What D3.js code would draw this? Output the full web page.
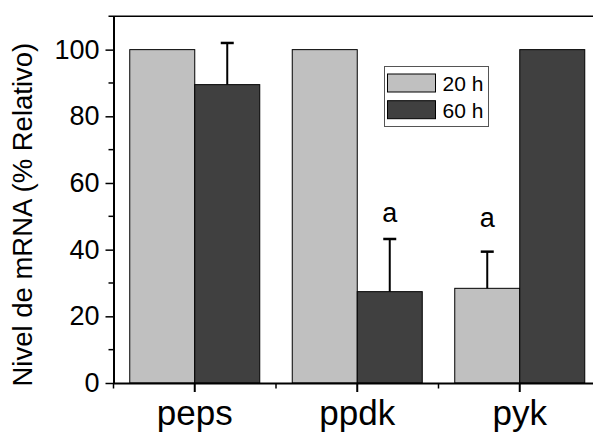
<!DOCTYPE html>
<html>
<head>
<meta charset="utf-8">
<script src="https://cdn.jsdelivr.net/npm/d3@7"></script>
<style>
  body { margin: 0; background: #fff; }
  svg { display: block; font-family: "Liberation Sans", Arial, sans-serif; }
</style>
</head>
<body>
<script>
// data
const genes = ["peps", "ppdk", "pyk"];
const series = ["20 h", "60 h"];
const colors = ["#c0c0c0", "#404040"];
const values20 = [100, 100, 28.4];
const values60 = [89.5, 27.4, 100];
const err20 = [0, 0, 11];
const err60 = [12.5, 15.8, 0];
const yTicks = [0, 20, 40, 60, 80, 100];
const yMinor = [10, 30, 50, 70, 90];
// significance marks: gene, series, y position (data units)
const marks = [
    {gene: "ppdk", s: "60 h", y: 48.2, text: "a"},
    {gene: "pyk", s: "20 h", y: 46.8, text: "a"}
];

const rows = [];
genes.forEach((g, i) => {
    rows.push({gene: g, s: series[0], v: values20[i], e: err20[i], color: colors[0]});
    rows.push({gene: g, s: series[1], v: values60[i], e: err60[i], color: colors[1]});
});

const W = 593, H = 434;
const plotLeft = 113.5, plotRight = 601, plotTop = 16.3, plotBottom = 383;

const svg = d3.select('body').append('svg')
    .attr('width', W)
    .attr('height', H);

const x = d3.scaleBand()
    .domain(genes)
    .range([plotLeft, plotRight])
    .padding(0);

const barW = 65;
const xs = d3.scaleBand()
    .domain(series)
    .range([-barW, barW]);

const y = d3.scaleLinear()
    .domain([0, 110])
    .range([plotBottom, plotTop]);

const cx = g => x(g) + x.bandwidth() / 2;

// bars
svg.append('g')
    .selectAll('rect')
    .data(rows)
    .enter()
    .append('rect')
    .attr('x', d => cx(d.gene) + xs(d.s))
    .attr('width', xs.bandwidth())
    .attr('y', d => y(d.v))
    .attr('height', d => y(0) - y(d.v))
    .attr('fill', d => d.color)
    .attr('stroke', '#000')
    .attr('stroke-width', 1);

// error bars (upper half only)
const eb = svg.append('g')
    .selectAll('g')
    .data(rows.filter(d => d.e > 0))
    .enter()
    .append('g')
    .attr('stroke', '#000');

eb.append('line')
    .attr('x1', d => cx(d.gene) + xs(d.s) + xs.bandwidth() / 2)
    .attr('x2', d => cx(d.gene) + xs(d.s) + xs.bandwidth() / 2)
    .attr('y1', d => y(d.v))
    .attr('y2', d => y(d.v + d.e))
    .attr('stroke-width', 2);

eb.append('line')
    .attr('x1', d => cx(d.gene) + xs(d.s) + xs.bandwidth() / 2 - 6.5)
    .attr('x2', d => cx(d.gene) + xs(d.s) + xs.bandwidth() / 2 + 6.5)
    .attr('y1', d => y(d.v + d.e))
    .attr('y2', d => y(d.v + d.e))
    .attr('stroke-width', 2.5);

// significance letters
svg.append('g')
    .selectAll('text')
    .data(marks)
    .enter()
    .append('text')
    .attr('x', d => cx(d.gene) + xs(d.s) + xs.bandwidth() / 2)
    .attr('y', d => y(d.y))
    .attr('text-anchor', 'middle')
    .attr('font-size', 27)
    .text(d => d.text);

// top frame line
svg.append('line')
    .attr('x1', plotLeft - 5)
    .attr('x2', plotRight)
    .attr('y1', y(110))
    .attr('y2', y(110))
    .attr('stroke', '#000')
    .attr('stroke-width', 1.5);

// y axis
const yAxis = d3.axisLeft(y)
    .tickValues(yTicks)
    .tickSize(8)
    .tickPadding(6)
    .tickSizeOuter(0);

const yg = svg.append('g')
    .attr('transform', `translate(${plotLeft}, 0)`)
    .call(yAxis);
yg.select('.domain').attr('stroke-width', 2);
yg.selectAll('.tick line').attr('stroke-width', 1.5);
yg.selectAll('.tick text')
    .attr('font-size', 27)
    .attr('font-family', '"Liberation Sans", Arial, sans-serif')
    .attr('fill', '#000');

svg.append('g')
    .selectAll('line')
    .data(yMinor)
    .enter()
    .append('line')
    .attr('x1', plotLeft - 5)
    .attr('x2', plotLeft)
    .attr('y1', d => y(d))
    .attr('y2', d => y(d))
    .attr('stroke', '#000')
    .attr('stroke-width', 1.5);

// x axis
const xAxis = d3.axisBottom(x)
    .tickSize(9)
    .tickPadding(10)
    .tickSizeOuter(0);

const xg = svg.append('g')
    .attr('transform', `translate(0, ${plotBottom})`)
    .call(xAxis);
xg.select('.domain').attr('stroke-width', 2);
xg.selectAll('.tick line').attr('stroke-width', 2);
xg.selectAll('.tick text')
    .attr('font-size', 35)
    .attr('font-family', '"Liberation Sans", Arial, sans-serif')
    .attr('fill', '#000')
    .attr('y', 42)
    .attr('dy', 0);

// minor x ticks at category boundaries
svg.append('g')
    .selectAll('line')
    .data(genes)
    .enter()
    .append('line')
    .attr('x1', d => x(d))
    .attr('x2', d => x(d))
    .attr('y1', plotBottom)
    .attr('y2', plotBottom + 5.5)
    .attr('stroke', '#000')
    .attr('stroke-width', 1.5);

// y title
svg.append('text')
    .attr('transform', `translate(32, ${(y(0) + y(110)) / 2 + 15}) rotate(-90)`)
    .attr('text-anchor', 'middle')
    .attr('font-size', 27.5)
    .text('Nivel de mRNA (% Relativo)');

// legend
const lg = svg.append('g')
    .attr('transform', 'translate(384.5, 66.5)');

lg.append('rect')
    .attr('width', 104)
    .attr('height', 60)
    .attr('fill', '#fff')
    .attr('stroke', '#555')
    .attr('stroke-width', 1);

const li = lg.selectAll('g.item')
    .data(series)
    .enter()
    .append('g')
    .attr('class', 'item')
    .attr('transform', (d, i) => `translate(3, ${7.5 + i * 26.7})`);

li.append('rect')
    .attr('width', 48)
    .attr('height', 18)
    .attr('fill', (d, i) => colors[i])
    .attr('stroke', '#000')
    .attr('stroke-width', 1);

li.append('text')
    .attr('x', 55)
    .attr('y', 17)
    .attr('font-size', 21)
    .text(d => d);
</script>
</body>
</html>
